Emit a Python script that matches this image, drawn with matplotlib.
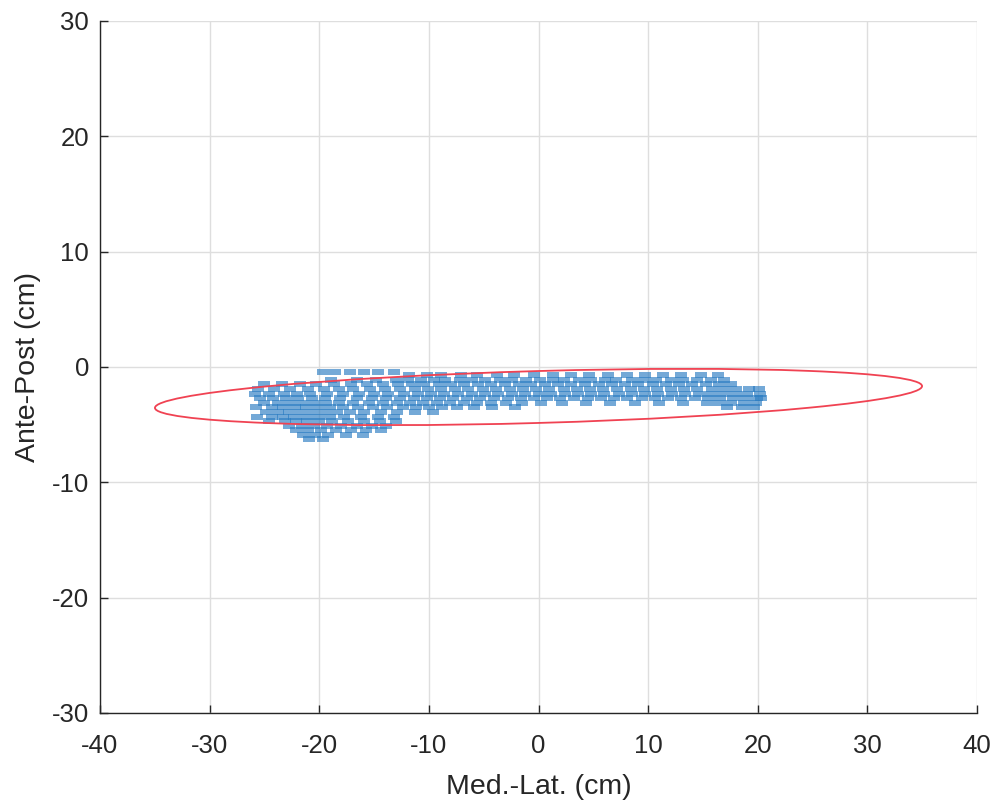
import matplotlib
matplotlib.use("Agg")
import matplotlib.pyplot as plt
from matplotlib.patches import Ellipse
from matplotlib.path import Path

# sway trace: (ante-post level, med-lat positions)
trace_rows = [
    (-0.45, [-19.7, -18.6, -17.2, -15.9, -14.6, -13.2]),
    (-0.7, [-11.8, -10.2, -8.9, -7.1, -5.6, -3.8, -2.2, -0.4, 1.3, 3.0, 4.6,
            6.3, 8.1, 9.7, 11.4, 13.0, 14.8, 16.4]),
    (-1.1, [-18.9, -16.6, -14.8, -13.0, -11.9, -10.7, -9.5, -8.5, -7.2, -6.1,
            -4.9, -3.5, -2.4, -1.1, 0.1, 1.3, 2.3, 3.7, 4.8, 6.1, 7.1, 8.5, 9.6,
            10.7, 12.1, 13.2, 14.5, 15.7, 16.9]),
    (-1.5, [-25.0, -23.4, -21.8, -20.3, -18.7, -17.1, -15.6, -14.2, -12.8, -11.5,
            -10.4, -9.1, -8.0, -6.8, -5.5, -4.3, -3.1, -1.8, -0.7, 0.6, 1.8, 3.0,
            4.2, 5.5, 6.7, 7.9, 9.1, 10.4, 11.6, 12.8, 14.0, 15.3, 16.5, 17.6]),
    (-1.9, [-25.6, -24.1, -22.7, -21.0, -19.6, -18.2, -16.9, -15.4, -14.0, -12.6,
            -11.3, -10.1, -8.9, -7.6, -6.4, -5.1, -3.9, -2.6, -1.4, -0.2, 1.0,
            2.3, 3.5, 4.7, 5.9, 7.2, 8.4, 9.6, 10.8, 12.1, 13.3, 14.5, 15.8,
            16.9, 18.0, 19.2, 20.1]),
    (-2.3, [-25.9, -24.6, -23.2, -22.0, -20.8, -19.3, -17.8, -16.4, -15.0, -13.7,
            -12.3, -11.0, -9.8, -8.6, -7.3, -6.1, -4.9, -3.7, -2.4, -1.2, 0.0,
            1.1, 2.4, 3.6, 4.8, 6.0, 7.3, 8.5, 9.7, 10.9, 12.2, 13.4, 14.6, 15.7,
            16.8, 17.9, 19.0, 20.2]),
    (-2.7, [-25.4, -24.2, -23.0, -21.9, -20.7, -19.5, -18.1, -16.6, -15.2, -13.9,
            -12.6, -11.4, -10.2, -9.0, -7.8, -6.5, -5.3, -4.1, -2.8, -1.6, -0.4,
            0.8, 2.0, 3.2, 4.5, 5.7, 6.9, 8.1, 9.4, 10.6, 11.8, 13.0, 14.3, 15.5,
            16.6, 17.7, 18.8, 19.9, 20.3]),
    (-3.1, [-25.0, -23.8, -22.7, -21.6, -20.5, -19.4, -18.2, -16.9, -15.5, -14.2,
            -12.9, -11.7, -10.5, -9.3, -8.1, -6.8, -5.6, -4.3, -3.0, -1.5, 0.2,
            2.1, 4.3, 6.5, 8.8, 11.0, 13.2, 15.4, 16.5, 17.6, 18.7, 19.8]),
    (-3.5, [-25.8, -24.3, -23.3, -22.2, -21.2, -20.1, -19.0, -17.8, -16.5, -15.1,
            -13.8, -12.4, -11.2, -10.0, -8.8, -7.4, -5.9, -4.2, -2.1, 17.2, 18.6,
            19.7]),
    (-3.9, [-24.9, -23.8, -22.8, -21.7, -20.6, -19.5, -18.4, -17.2, -15.9, -14.4,
            -12.9, -11.3, -9.6]),
    (-4.3, [-25.7, -24.3, -23.3, -22.3, -21.2, -20.1, -19.0, -17.7, -16.2, -14.6,
            -13.2]),
    (-4.7, [-24.6, -23.1, -22.1, -21.1, -20.0, -18.8, -17.4, -15.9, -14.5, -13.0]),
    (-5.1, [-22.8, -21.6, -20.5, -19.3, -18.0, -16.6, -15.2, -13.9]),
    (-5.5, [-22.1, -21.0, -19.8, -18.5, -17.1, -15.7, -14.4]),
    (-5.9, [-21.5, -20.4, -19.2, -17.6, -16.0]),
    (-6.25, [-20.9, -19.7]),
]

# 95% confidence ellipse
ell_center = (0.0, -2.6)
ell_width = 70.0
ell_height = 4.5
ell_angle = 1.55

x_ticks = [-40, -30, -20, -10, 0, 10, 20, 30, 40]
y_ticks = [-30, -20, -10, 0, 10, 20, 30]

ml = [x for y, xs in trace_rows for x in xs]
ap = [y for y, xs in trace_rows for x in xs]

plt.rcParams["font.family"] = ["Liberation Sans", "DejaVu Sans"]
plt.rcParams["axes.unicode_minus"] = False

fig = plt.figure(figsize=(9.93, 8.0), dpi=100)
ax = fig.add_axes([0.1007, 0.10875, 0.8832, 0.865])

# short wide marker so the dots look like the horizontal streaks of the trace
streak = Path([(-1, -0.5), (1, -0.5), (1, 0.5), (-1, 0.5), (-1, -0.5)],
              [Path.MOVETO, Path.LINETO, Path.LINETO, Path.LINETO, Path.CLOSEPOLY])
ax.plot(ml, ap, linestyle="none", marker=streak, markersize=9,
        markeredgewidth=0, color="#2a7cc2", alpha=0.65, zorder=3)

ax.add_patch(Ellipse(ell_center, ell_width, ell_height, angle=ell_angle,
                     fill=False, edgecolor="#f04252", linewidth=1.3, zorder=4))

ax.set_xlim(-40, 40)
ax.set_ylim(-30, 30)
ax.set_xticks(x_ticks)
ax.set_yticks(y_ticks)
ax.grid(True, color="#dedede", linewidth=1.0, zorder=0)
ax.set_axisbelow(True)

for side in ["top", "right"]:
    ax.spines[side].set_visible(False)
for side in ["left", "bottom"]:
    ax.spines[side].set_color("#262626")
    ax.spines[side].set_linewidth(1.0)

ax.tick_params(direction="in", length=6, width=1.0, colors="#262626",
               labelsize=18.5)
ax.tick_params(axis="x", pad=15)
ax.tick_params(axis="y", pad=8)
ax.set_xlabel("Med.-Lat. (cm)", fontsize=20.5, color="#262626", labelpad=12)
ax.set_ylabel("Ante-Post (cm)", fontsize=20.5, color="#262626", labelpad=8)

fig.savefig("out.png", dpi=100)
